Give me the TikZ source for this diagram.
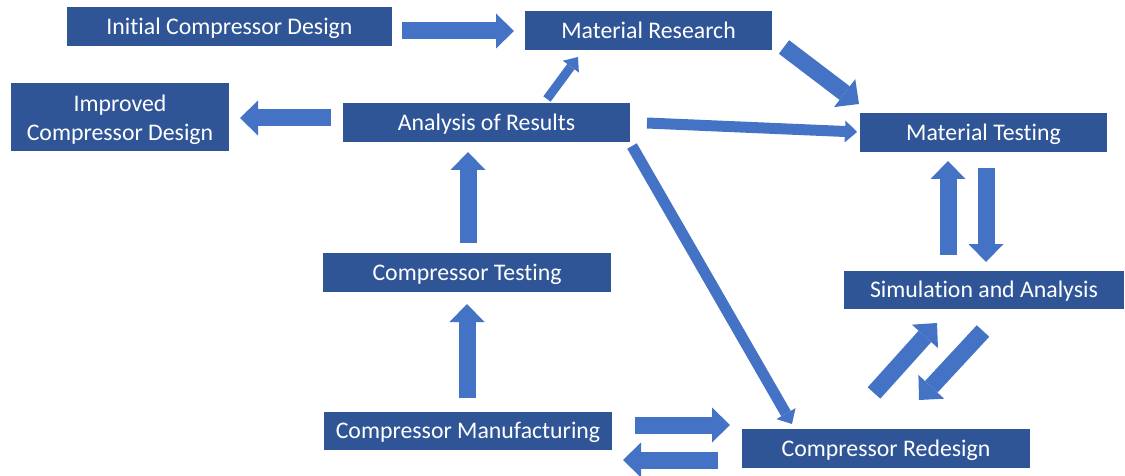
\documentclass[tikz,border=0pt]{standalone}
\usepackage{fontspec}
\setmainfont{Carlito}[Ligatures=NoCommon]
\usetikzlibrary{arrows.meta}
\definecolor{boxblue}{HTML}{2F5597}
\definecolor{arrblue}{HTML}{4472C4}
\tikzset{
  box/.style={fill=boxblue, text=white, inner sep=0pt, font=\fontsize{23.8}{29}\selectfont, align=center},
  onebox/.style={box, text height=18pt, text depth=2.4pt},
  bigarrow/.style={draw=arrblue, line width=17pt, -{Triangle[width=35pt,length=18pt,line width=0pt]}},
  thinarrow/.style={draw=arrblue, line width=11pt, -{Triangle[width=22pt,length=12pt,line width=0pt]}},
  smallarrow/.style={draw=arrblue, line width=9pt, -{Triangle[width=20pt,length=12pt,line width=0pt]}}
}
\begin{document}
\begin{tikzpicture}[x=1pt, y=-1pt]
\useasboundingbox (0,0) rectangle (1125,476);
% boxes
\node[onebox, minimum width=325pt, minimum height=39pt] (init) at (229.5,26.5) {Initial Compressor Design};
\node[onebox, minimum width=247pt, minimum height=39pt] (matres) at (648.5,30.5) {Material Research};
\node[box, minimum width=218pt, minimum height=68pt] (improved) at (120,117) {\rule{0pt}{22pt}Improved\\Compressor Design};
\node[onebox, minimum width=287pt, minimum height=39pt] (analysis) at (486.5,122.5) {Analysis of Results};
\node[onebox, minimum width=247pt, minimum height=39pt] (mattest) at (983.5,132.5) {Material Testing};
\node[onebox, minimum width=288pt, minimum height=39pt] (testing) at (467,272.5) {Compressor Testing};
\node[onebox, minimum width=280pt, minimum height=38pt] (sim) at (984,290) {Simulation and Analysis};
\node[onebox, minimum width=288pt, minimum height=38pt] (manuf) at (468,431) {Compressor Manufacturing};
\node[onebox, minimum width=288pt, minimum height=39pt] (redesign) at (886,448.5) {Compressor Redesign};
% connector end points
\coordinate (a1s) at (402,31);   \coordinate (a1e) at (514,31);
\coordinate (a2s) at (331,118);  \coordinate (a2e) at (240,118);
\coordinate (a3s) at (547,99);   \coordinate (a3e) at (578,57);
\coordinate (a4s) at (784,47);   \coordinate (a4e) at (859,104);
\coordinate (a5s) at (647,123);  \coordinate (a5e) at (857,132);
\coordinate (a6s) at (632,146);  \coordinate (a6e) at (792,424);
\coordinate (a7s) at (468,243);  \coordinate (a7e) at (468,152);
\coordinate (a8s) at (467,398);  \coordinate (a8e) at (467,304);
\coordinate (a9s) at (635,425);  \coordinate (a9e) at (730,425);
\coordinate (a10s) at (718,460); \coordinate (a10e) at (623,460);
\coordinate (a11s) at (948,255); \coordinate (a11e) at (948,161);
\coordinate (a12s) at (986,168); \coordinate (a12e) at (986,262);
\coordinate (a13s) at (874,393); \coordinate (a13e) at (937,323);
\coordinate (a14s) at (983,331); \coordinate (a14e) at (919,400);
% connectors
\draw[bigarrow] (a1s) -- (a1e);
\draw[bigarrow] (a2s) -- (a2e);
\draw[smallarrow] (a3s) -- (a3e);
\draw[bigarrow] (a4s) -- (a4e);
\draw[thinarrow] (a5s) -- (a5e);
\draw[thinarrow] (a6s) -- (a6e);
\draw[bigarrow] (a7s) -- (a7e);
\draw[bigarrow] (a8s) -- (a8e);
\draw[bigarrow] (a9s) -- (a9e);
\draw[bigarrow] (a10s) -- (a10e);
\draw[bigarrow] (a11s) -- (a11e);
\draw[bigarrow] (a12s) -- (a12e);
\draw[bigarrow] (a13s) -- (a13e);
\draw[bigarrow] (a14s) -- (a14e);
\end{tikzpicture}
\end{document}
